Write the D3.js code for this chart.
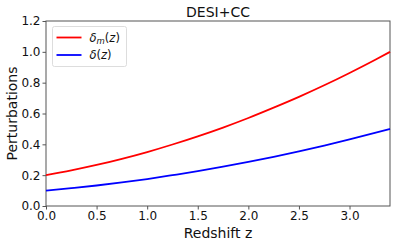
<!DOCTYPE html>
<html>
<head>
<meta charset="utf-8">
<script src="https://cdn.jsdelivr.net/npm/d3@7"></script>
<style>
    body { margin: 0; background: #fff; }
    svg { display: block; font-family: "DejaVu Sans", sans-serif; }
</style>
</head>
<body>
<svg id="chart" width="395" height="245"></svg>
<script>
// values
var redshift = [0, 0.25, 0.5, 0.75, 1.0, 1.25, 1.5, 1.75, 2.0, 2.25, 2.5, 2.75, 3.0, 3.25, 3.4];
var deltaM = [0.200, 0.231, 0.266, 0.306, 0.350, 0.399, 0.452, 0.509, 0.571, 0.638, 0.708, 0.783, 0.863, 0.947, 1.000];
var delta = [0.100, 0.116, 0.133, 0.153, 0.175, 0.200, 0.226, 0.255, 0.286, 0.319, 0.354, 0.392, 0.432, 0.474, 0.500];
var xTicks = [0, 0.5, 1.0, 1.5, 2.0, 2.5, 3.0];
var yTicks = [0, 0.2, 0.4, 0.6, 0.8, 1.0, 1.2];

var margin = {top: 21, right: 5, bottom: 39, left: 46},
    width = 395 - margin.left - margin.right,
    height = 245 - margin.top - margin.bottom;

var svg = d3.select("#chart");
var g = svg.append("g").attr("transform", "translate(" + margin.left + "," + margin.top + ")");

var x = d3.scaleLinear().domain([0, 3.4]).range([0, width]);
var y = d3.scaleLinear().domain([0, 1.2]).range([height, 0]);

// axes
var xAxis = g.append("g")
    .attr("transform", "translate(0," + height + ")")
    .call(d3.axisBottom(x).tickValues(xTicks).tickFormat(d3.format(".1f")).tickSize(3.5).tickPadding(2));
var yAxis = g.append("g")
    .call(d3.axisLeft(y).tickValues(yTicks).tickFormat(d3.format(".1f")).tickSize(3.5).tickPadding(2));

[xAxis, yAxis].forEach(function (ax) {
    ax.select(".domain").remove();
    ax.selectAll(".tick line").attr("stroke", "#555");
    ax.selectAll(".tick text")
        .attr("fill", "#111")
        .style("font-family", "DejaVu Sans")
        .style("font-size", "12px");
});

// frame
g.append("rect")
    .attr("x", 0).attr("y", 0)
    .attr("width", width).attr("height", height)
    .attr("fill", "none")
    .attr("stroke", "#555")
    .attr("stroke-width", 1);

// lines
var series = [
    {values: deltaM, color: "#ff0000"},
    {values: delta, color: "#0000ff"}
];
var line = d3.line()
    .x(function (d) { return x(d[0]); })
    .y(function (d) { return y(d[1]); })
    .curve(d3.curveMonotoneX);

series.forEach(function (s) {
    g.append("path")
        .datum(redshift.map(function (z, i) { return [z, s.values[i]]; }))
        .attr("fill", "none")
        .attr("stroke", s.color)
        .attr("stroke-width", 1.8)
        .attr("d", line);
});

// legend
var legend = g.append("g").attr("transform", "translate(6.5,5.5)");
legend.append("rect")
    .attr("width", 74).attr("height", 40).attr("rx", 2)
    .attr("fill", "#fff").attr("fill-opacity", 0.8)
    .attr("stroke", "#ddd");

var legendItems = [
    {color: "#ff0000", y: 11, sub: "m"},
    {color: "#0000ff", y: 28.5, sub: null}
];
legendItems.forEach(function (it) {
    legend.append("line")
        .attr("x1", 4).attr("x2", 29)
        .attr("y1", it.y).attr("y2", it.y)
        .attr("stroke", it.color).attr("stroke-width", 1.8);
    var t = legend.append("text")
        .attr("x", 37).attr("y", it.y + 4)
        .style("font-size", "11.5px")
        .attr("fill", "#111");
    t.append("tspan").style("font-style", "italic").text("δ");
    if (it.sub) {
        t.append("tspan").style("font-style", "italic").style("font-size", "8.5px").attr("dy", 2).text(it.sub);
        t.append("tspan").attr("dy", -2).text("(");
    } else {
        t.append("tspan").text("(");
    }
    t.append("tspan").style("font-style", "italic").text("z");
    t.append("tspan").text(")");
});

// title and axis labels
svg.append("text")
    .attr("x", margin.left + width / 2).attr("y", 17)
    .attr("text-anchor", "middle")
    .style("font-size", "14px")
    .attr("fill", "#111")
    .text("DESI+CC");

svg.append("text")
    .attr("x", margin.left + width / 2).attr("y", 238)
    .attr("text-anchor", "middle")
    .style("font-size", "14px")
    .attr("fill", "#111")
    .text("Redshift z");

svg.append("text")
    .attr("transform", "translate(17," + (margin.top + height / 2) + ") rotate(-90)")
    .attr("text-anchor", "middle")
    .style("font-size", "14px")
    .attr("fill", "#111")
    .text("Perturbations");
</script>
</body>
</html>
